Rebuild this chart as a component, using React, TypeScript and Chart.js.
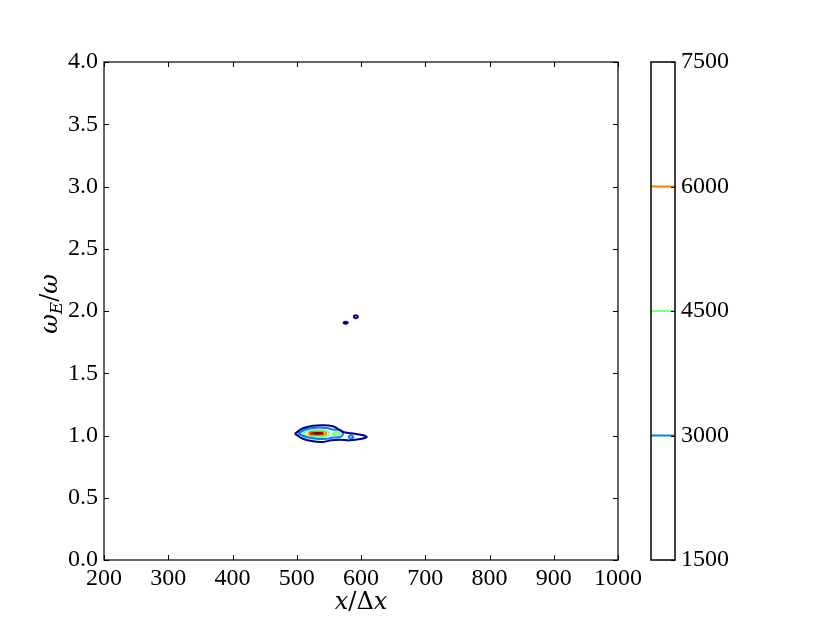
import { useEffect, useRef } from 'react';
import { Chart, registerables } from 'chart.js';
Chart.register(...registerables);

const X_TICKS = [200, 300, 400, 500, 600, 700, 800, 900, 1000];
const Y_TICKS = [0, 0.5, 1, 1.5, 2, 2.5, 3, 3.5, 4];
const CBAR_LEVELS = [1500, 3000, 4500, 6000, 7500];
const LEVEL_COLORS = ['#000080', '#0080ff', '#7fff7f', '#ff8000', '#800000'];

type Pt = [number, number];

// contour level 1500 (outer)
const level1500Main: Pt[] = [
  [496.8, 1.014], [509.7, 1.058], [525.3, 1.078], [540.9, 1.083], [556.4, 1.074],
  [564.2, 1.052], [572.5, 1.028], [590.7, 1.014], [603.6, 1.002], [608.9, 0.988],
  [601.1, 0.974], [582.9, 0.961], [567.3, 0.966], [553.6, 0.961], [540.9, 0.948],
  [525.3, 0.953], [509.7, 0.974],
];
const level1500Dash: Pt[] = [[572.0, 1.906], [575.6, 1.914], [579.3, 1.906], [575.6, 1.898]];
const level1500Ring: Pt[] = [[588.0, 1.954], [591.7, 1.966], [595.3, 1.954], [591.7, 1.942]];
// contour level 3000
const level3000Main: Pt[] = [
  [502.0, 1.014], [514.9, 1.05], [530.4, 1.063], [546.0, 1.06], [556.4, 1.048],
  [567.3, 1.044], [572.0, 1.016], [567.3, 0.988], [556.4, 0.984], [546.0, 0.974],
  [530.4, 0.974], [514.9, 0.988],
];
const level3000Ring: Pt[] = [[580.0, 0.988], [584.0, 1.002], [588.0, 0.988], [584.0, 0.974]];
// contour level 4500
const level4500Main: Pt[] = [
  [509.7, 1.014], [517.5, 1.04], [530.4, 1.047], [544.0, 1.04], [550.2, 1.016],
  [544.0, 0.992], [530.4, 0.988], [517.5, 0.992],
];
const level4500Spot: Pt[] = [[554.5, 1.014], [560.0, 1.028], [566.5, 1.022], [566.0, 1.006], [560.0, 1.002]];
// contour level 6000
const level6000Main: Pt[] = [
  [517.5, 1.016], [523.0, 1.032], [533.0, 1.036], [543.0, 1.03], [546.0, 1.016],
  [542.0, 1.002], [532.0, 0.998], [522.0, 1.002],
];
// contour level 7500 (core)
const level7500Core: Pt[] = [[520.5, 1.016], [527.0, 1.024], [536.0, 1.024], [541.0, 1.016], [536.0, 1.008], [527.0, 1.008]];

const CONTOURS: { level: number; pts: Pt[] }[] = [
  { level: 1500, pts: level1500Main },
  { level: 1500, pts: level1500Dash },
  { level: 1500, pts: level1500Ring },
  { level: 3000, pts: level3000Main },
  { level: 3000, pts: level3000Ring },
  { level: 4500, pts: level4500Main },
  { level: 4500, pts: level4500Spot },
  { level: 6000, pts: level6000Main },
  { level: 7500, pts: level7500Core },
];

const FONT_FAMILY = "'Liberation Serif', 'DejaVu Serif', serif";
const TITLE_FAMILY = "'DejaVu Serif', 'Liberation Serif', serif";
const TICK_FONT = { family: FONT_FAMILY, size: 24 };

const colorFor = (level: number) => LEVEL_COLORS[CBAR_LEVELS.indexOf(level)];

const mainDecor = {
  id: 'mainDecor',
  afterDraw(chart: any) {
    const { ctx, chartArea: a, scales } = chart;
    ctx.save();
    ctx.strokeStyle = '#000';
    ctx.lineWidth = 1.2;
    ctx.strokeRect(a.left, a.top, a.right - a.left, a.bottom - a.top);
    ctx.lineWidth = 1;
    const tl = 5;
    ctx.beginPath();
    for (const v of X_TICKS) {
      const px = Math.round(scales.x.getPixelForValue(v)) + 0.5;
      ctx.moveTo(px, a.bottom); ctx.lineTo(px, a.bottom - tl);
      ctx.moveTo(px, a.top); ctx.lineTo(px, a.top + tl);
    }
    for (const v of Y_TICKS) {
      const py = Math.round(scales.y.getPixelForValue(v)) + 0.5;
      ctx.moveTo(a.left, py); ctx.lineTo(a.left + tl, py);
      ctx.moveTo(a.right, py); ctx.lineTo(a.right - tl, py);
    }
    ctx.stroke();

    // axis titles (math style)
    ctx.fillStyle = '#000';
    ctx.textBaseline = 'alphabetic';
    const it = `italic 24px ${TITLE_FAMILY}`;
    const rm = `24px ${TITLE_FAMILY}`;
    const drawPieces = (pieces: { t: string; f: string; dy: number }[], cx: number, cy: number) => {
      let total = 0;
      for (const p of pieces) { ctx.font = p.f; total += ctx.measureText(p.t).width; }
      let x = cx - total / 2;
      for (const p of pieces) {
        ctx.font = p.f;
        ctx.fillText(p.t, x, cy + p.dy);
        x += ctx.measureText(p.t).width;
      }
    };
    drawPieces([
      { t: 'x', f: it, dy: 0 },
      { t: '/', f: rm, dy: 0 },
      { t: 'Δ', f: rm, dy: 0 },
      { t: 'x', f: it, dy: 0 },
    ], (a.left + a.right) / 2, 609);
    ctx.save();
    ctx.translate(57, 304);
    ctx.rotate(-Math.PI / 2);
    drawPieces([
      { t: 'ω', f: it, dy: 0 },
      { t: 'E', f: `italic 17px ${TITLE_FAMILY}`, dy: 5 },
      { t: '/', f: rm, dy: 0 },
      { t: 'ω', f: it, dy: 0 },
    ], 0, 0);
    ctx.restore();
    ctx.restore();
  },
};

const cbarDecor = {
  id: 'cbarDecor',
  afterDraw(chart: any) {
    const { ctx, chartArea: a, scales } = chart;
    ctx.save();
    ctx.strokeStyle = '#000';
    ctx.lineWidth = 1;
    ctx.beginPath();
    for (const v of CBAR_LEVELS) {
      const py = Math.round(scales.y.getPixelForValue(v)) + 0.5;
      ctx.moveTo(a.right, py); ctx.lineTo(a.right - 4, py);
    }
    ctx.stroke();
    ctx.lineWidth = 1.5;
    ctx.strokeRect(a.left, a.top, a.right - a.left, a.bottom - a.top);
    ctx.restore();
  },
};

export default function App() {
  const mainRef = useRef<HTMLCanvasElement>(null);
  const cbarRef = useRef<HTMLCanvasElement>(null);

  useEffect(() => {
    const datasets = CONTOURS.map((c) => ({
      data: [...c.pts, c.pts[0]].map(([x, y]) => ({ x, y })),
      borderColor: colorFor(c.level),
      backgroundColor: colorFor(c.level),
      borderWidth: 2,
      pointRadius: 0,
      showLine: true,
      tension: 0.4,
      fill: c.level === 7500 ? 'shape' : false,
    }));

    const main = new Chart(mainRef.current!, {
      type: 'scatter',
      data: { datasets: datasets as any },
      options: {
        animation: false,
        responsive: false,
        maintainAspectRatio: false,
        layout: { padding: { left: 0, top: 62, right: 212, bottom: 0 } },
        plugins: { legend: { display: false }, tooltip: { enabled: false } },
        scales: {
          x: {
            type: 'linear', min: 200, max: 1000,
            afterBuildTicks: (s: any) => { s.ticks = X_TICKS.map((v) => ({ value: v })); },
            afterFit: (s: any) => { s.height = 63; },
            grid: { display: false, drawTicks: false },
            border: { display: false },
            ticks: { autoSkip: false, maxRotation: 0, padding: 4, color: '#000', font: TICK_FONT, callback: (v: any) => String(v) },
          },
          y: {
            type: 'linear', min: 0, max: 4,
            afterBuildTicks: (s: any) => { s.ticks = Y_TICKS.map((v) => ({ value: v })); },
            afterFit: (s: any) => { s.width = 104; },
            grid: { display: false, drawTicks: false },
            border: { display: false },
            ticks: { autoSkip: false, padding: 6, color: '#000', font: TICK_FONT, callback: (v: any) => Number(v).toFixed(1) },
          },
        },
      },
      plugins: [mainDecor],
    });

    const lastIdx = CBAR_LEVELS.length - 1;
    const cbarDatasets = CBAR_LEVELS.map((lv, i) => ({
      data: [{ x: 0, y: lv }, { x: 1, y: lv }],
      borderColor: i === 0 || i === lastIdx ? 'rgba(0,0,0,0)' : LEVEL_COLORS[i],
      borderWidth: 2,
      pointRadius: 0,
      showLine: true,
    }));

    const cbar = new Chart(cbarRef.current!, {
      type: 'scatter',
      data: { datasets: cbarDatasets as any },
      options: {
        animation: false,
        responsive: false,
        maintainAspectRatio: false,
        layout: { padding: { left: 11, top: 62, right: 0, bottom: 63 } },
        plugins: { legend: { display: false }, tooltip: { enabled: false } },
        scales: {
          x: { type: 'linear', min: 0, max: 1, display: false },
          y: {
            type: 'linear', position: 'right', min: 1500, max: 7500,
            afterBuildTicks: (s: any) => { s.ticks = CBAR_LEVELS.map((v) => ({ value: v })); },
            afterFit: (s: any) => { s.width = 155; },
            grid: { display: false, drawTicks: false },
            border: { display: false },
            ticks: { autoSkip: false, padding: 6, color: '#000', font: TICK_FONT, callback: (v: any) => String(v) },
          },
        },
      },
      plugins: [cbarDecor],
    });

    return () => { main.destroy(); cbar.destroy(); };
  }, []);

  return (
    <div style={{ position: 'fixed', left: 0, top: 0, width: 830, height: 623, background: '#fff' }}>
      <canvas ref={mainRef} width={830} height={623} style={{ position: 'absolute', left: 0, top: 0 }} />
      <canvas ref={cbarRef} width={190} height={623} style={{ position: 'absolute', left: 640, top: 0 }} />
    </div>
  );
}
